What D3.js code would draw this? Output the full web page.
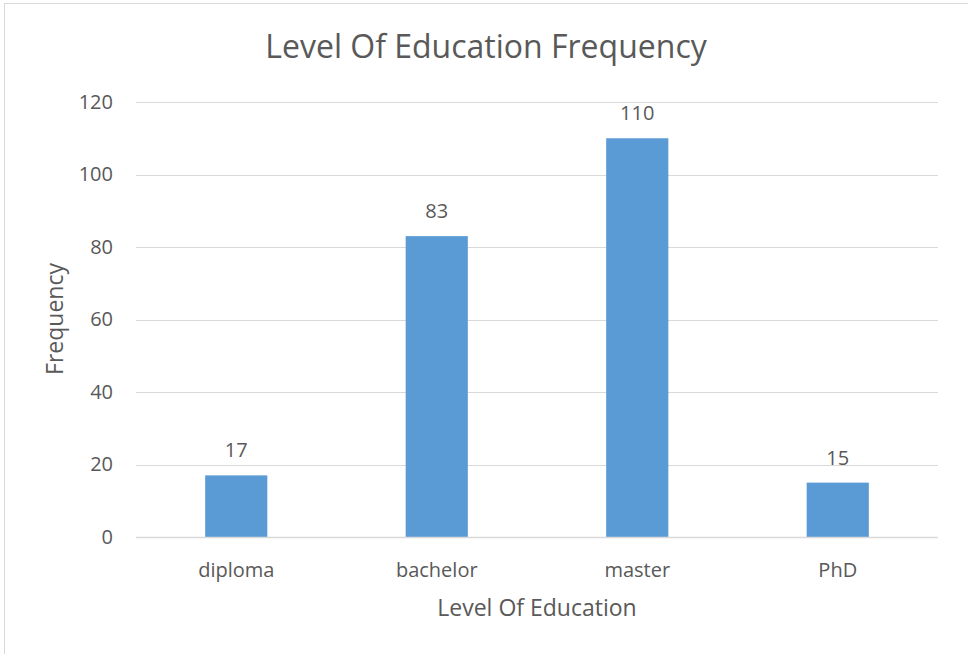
<!DOCTYPE html>
<html>
<head>
<meta charset="utf-8">
<script src="https://cdn.jsdelivr.net/npm/d3@7"></script>
<style>
  html, body { margin: 0; padding: 0; background: #fff; }
  svg { display: block; }
  text { font-family: "Open Sans", "Noto Sans", sans-serif; fill: #595959; }
</style>
</head>
<body>
<svg id="chart" width="968" height="654"></svg>
<script>
// Frequency of respondents by level of education
const categories = ["diploma", "bachelor", "master", "PhD"];
const frequencies = [17, 83, 110, 15];
const yTicks = [0, 20, 40, 60, 80, 100, 120];

const W = 968, H = 654;
const margin = { left: 136, right: 30, top: 102, bottom: 117 };
const svg = d3.select("#chart");

// Chart frame
svg.append("rect")
  .attr("x", 4.5).attr("y", 3.5)
  .attr("width", W + 10).attr("height", H + 10)
  .attr("fill", "#fff").attr("stroke", "#d9d9d9").attr("stroke-width", 1);

const x = d3.scaleBand()
  .domain(categories)
  .range([margin.left, W - margin.right])
  .paddingInner(0.69).paddingOuter(0.345);

const y = d3.scaleLinear()
  .domain([0, 120])
  .range([H - margin.bottom, margin.top]);

// Horizontal gridlines
svg.append("g")
  .selectAll("line")
  .data(yTicks)
  .join("line")
  .attr("x1", margin.left).attr("x2", W - margin.right)
  .attr("y1", d => Math.round(y(d)) + 0.5).attr("y2", d => Math.round(y(d)) + 0.5)
  .attr("stroke", "#d9d9d9").attr("stroke-width", 1);

// Y axis labels
const yAxis = d3.axisLeft(y).tickValues(yTicks).tickSize(0).tickPadding(23);
svg.append("g")
  .attr("transform", `translate(${margin.left},0)`)
  .call(yAxis)
  .call(g => g.select(".domain").remove())
  .call(g => g.selectAll("text")
    .attr("font-size", 20)
    .style("font-family", '"Open Sans", sans-serif')
    .attr("fill", "#595959"));

// Bars
svg.append("g")
  .selectAll("rect")
  .data(categories)
  .join("rect")
  .attr("x", d => x(d))
  .attr("width", x.bandwidth())
  .attr("y", (d, i) => y(frequencies[i]))
  .attr("height", (d, i) => y(0) - y(frequencies[i]))
  .attr("fill", "#5b9bd5");

// Baseline
svg.append("line")
  .attr("x1", margin.left).attr("x2", W - margin.right)
  .attr("y1", Math.round(y(0)) + 0.5).attr("y2", Math.round(y(0)) + 0.5)
  .attr("stroke", "#d9d9d9").attr("stroke-width", 1.5);

// Value labels
svg.append("g")
  .selectAll("text")
  .data(categories)
  .join("text")
  .attr("x", d => x(d) + x.bandwidth() / 2)
  .attr("y", (d, i) => y(frequencies[i]) - 18)
  .attr("text-anchor", "middle")
  .attr("font-size", 20)
  .text((d, i) => frequencies[i]);

// X axis labels
const xAxis = d3.axisBottom(x).tickSize(0).tickPadding(26);
svg.append("g")
  .attr("transform", `translate(0,${y(0)})`)
  .call(xAxis)
  .call(g => g.select(".domain").remove())
  .call(g => g.selectAll("text")
    .attr("font-size", 20)
    .style("font-family", '"Open Sans", sans-serif')
    .attr("fill", "#595959"));

// Title
svg.append("text")
  .attr("x", 486).attr("y", 58)
  .attr("text-anchor", "middle")
  .attr("font-size", 32)
  .text("Level Of Education Frequency");

// Axis titles
svg.append("text")
  .attr("x", (margin.left + W - margin.right) / 2).attr("y", 616)
  .attr("text-anchor", "middle")
  .attr("font-size", 23)
  .text("Level Of Education");

svg.append("text")
  .attr("transform", "translate(63,319) rotate(-90)")
  .attr("text-anchor", "middle")
  .attr("font-size", 23)
  .text("Frequency");
</script>
</body>
</html>
